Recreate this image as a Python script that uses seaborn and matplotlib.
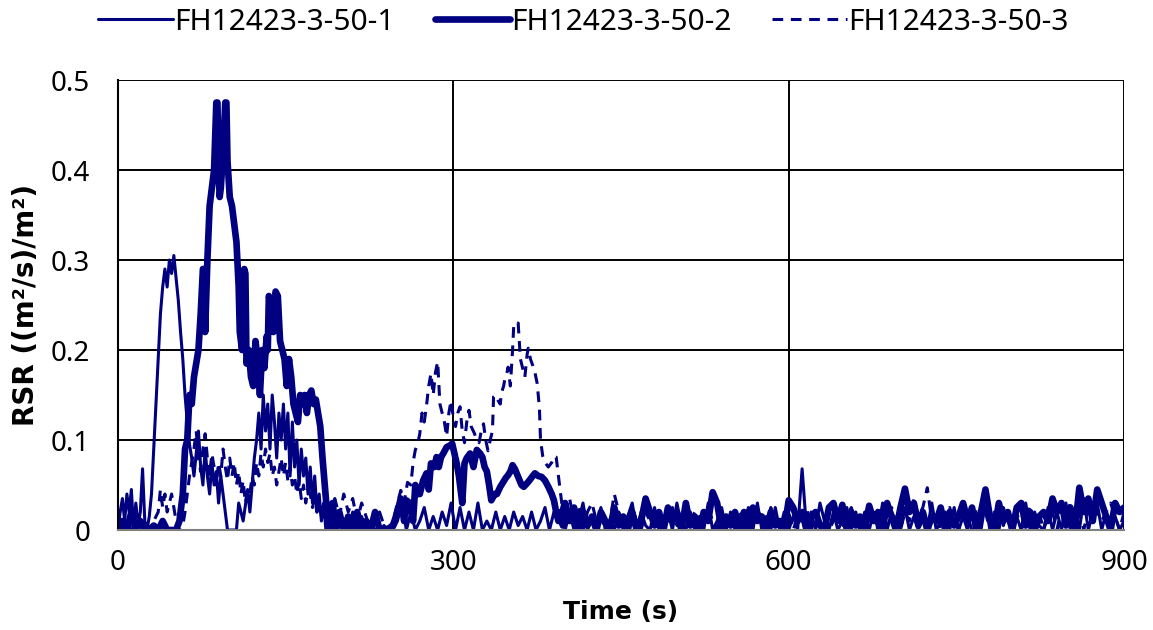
import numpy as np
import pandas as pd
import matplotlib
matplotlib.use('Agg')
import matplotlib.pyplot as plt
import seaborn as sns

sns.set_style('white')
plt.rcParams['font.family'] = ['Noto Sans', 'DejaVu Sans']
plt.rcParams['text.color'] = 'black'
plt.rcParams['axes.labelcolor'] = 'black'
plt.rcParams['xtick.color'] = 'black'
plt.rcParams['ytick.color'] = 'black'

navy = '#000080'
labels = ['FH12423-3-50-1', 'FH12423-3-50-2', 'FH12423-3-50-3']

# first 400 s read point by point, (time, RSR)
s1_main = [(0, 0.0), (2, 0.02), (4, 0.035), (6, 0.01), (8, 0.04), (10, 0.02), (12, 0.045), (14, 0.0),
           (16, 0.03), (18, 0.005), (20, 0.02), (22, 0.068), (24, 0.01), (26, 0.0), (28, 0.015), (30, 0.04),
           (32, 0.09), (34, 0.14), (36, 0.19), (38, 0.24), (40, 0.27), (42, 0.29), (44, 0.27), (46, 0.30),
           (48, 0.285), (50, 0.305), (52, 0.28), (54, 0.255), (56, 0.22), (58, 0.19), (60, 0.15), (62, 0.12),
           (64, 0.095), (66, 0.08), (68, 0.06), (70, 0.085), (72, 0.11), (74, 0.07), (76, 0.05), (78, 0.09),
           (80, 0.06), (82, 0.04), (84, 0.075), (86, 0.05), (88, 0.065), (90, 0.03), (92, 0.06), (94, 0.04),
           (96, 0.02), (98, 0.0), (102, 0.0), (106, 0.0), (108, 0.03), (112, 0.01), (116, 0.045), (118, 0.02),
           (120, 0.05), (122, 0.08), (124, 0.10), (126, 0.13), (128, 0.09), (130, 0.15), (132, 0.11), (134, 0.14),
           (136, 0.09), (138, 0.15), (140, 0.12), (142, 0.08), (144, 0.13), (146, 0.10), (148, 0.14), (150, 0.09),
           (152, 0.13), (154, 0.06), (156, 0.12), (158, 0.07), (160, 0.10), (162, 0.05), (164, 0.09), (166, 0.06),
           (168, 0.08), (170, 0.04), (172, 0.07), (174, 0.03), (176, 0.06), (178, 0.02), (180, 0.04), (182, 0.01),
           (184, 0.03), (186, 0.0), (190, 0.02), (194, 0.0), (198, 0.015), (202, 0.01), (206, 0.0), (210, 0.02),
           (214, 0.0), (218, 0.015), (222, 0.0), (226, 0.01), (230, 0.0), (234, 0.0), (238, 0.005), (242, 0.0),
           (246, 0.0), (250, 0.01), (254, 0.03), (258, 0.0), (262, 0.02), (266, 0.0), (270, 0.01), (274, 0.025),
           (278, 0.0), (282, 0.015), (286, 0.0), (290, 0.02), (294, 0.005), (298, 0.03), (302, 0.0), (306, 0.025),
           (310, 0.0), (314, 0.02), (318, 0.0), (322, 0.03), (326, 0.0), (330, 0.01), (334, 0.0), (338, 0.02),
           (342, 0.0), (346, 0.015), (350, 0.0), (354, 0.02), (358, 0.005), (362, 0.015), (366, 0.0), (370, 0.02),
           (374, 0.0), (378, 0.01), (382, 0.025), (386, 0.0), (390, 0.02), (394, 0.01), (398, 0.03)]

s2_main = [(0, 0.0), (4, 0.01), (8, 0.0), (12, 0.02), (16, 0.0), (20, 0.01), (24, 0.0), (28, 0.0),
           (32, 0.005), (36, 0.0), (40, 0.01), (44, 0.0), (48, 0.0), (52, 0.0), (55, 0.01), (58, 0.04),
           (60, 0.09), (62, 0.1), (64, 0.15), (66, 0.14), (68, 0.17), (70, 0.185), (72, 0.2), (74, 0.24),
           (76, 0.29), (77, 0.29), (78, 0.22), (80, 0.3), (82, 0.36), (84, 0.38), (86, 0.4), (88, 0.475),
           (89, 0.475), (90, 0.4), (91, 0.37), (92, 0.38), (94, 0.42), (96, 0.475), (97, 0.475), (98, 0.41),
           (100, 0.37), (102, 0.36), (104, 0.34), (106, 0.32), (108, 0.27), (109, 0.22), (111, 0.2), (113, 0.29),
           (114, 0.285), (115, 0.185), (117, 0.2), (119, 0.17), (121, 0.16), (123, 0.21), (125, 0.19), (127, 0.15),
           (129, 0.2), (131, 0.18), (133, 0.215), (134, 0.2), (135, 0.26), (137, 0.25), (139, 0.22), (141, 0.265),
           (143, 0.26), (145, 0.21), (147, 0.2), (149, 0.19), (151, 0.16), (153, 0.19), (155, 0.17), (157, 0.14),
           (159, 0.13), (161, 0.12), (163, 0.15), (165, 0.14), (167, 0.15), (169, 0.13), (171, 0.15), (173, 0.155),
           (175, 0.14), (177, 0.145), (179, 0.13), (181, 0.115), (183, 0.08), (185, 0.05), (187, 0.02), (189, 0.0),
           (192, 0.03), (195, 0.0), (198, 0.02), (202, 0.0), (206, 0.015), (210, 0.0), (214, 0.02), (218, 0.0),
           (222, 0.01), (226, 0.0), (230, 0.02), (234, 0.0), (240, 0.0), (246, 0.005), (250, 0.02), (253, 0.035),
           (256, 0.01), (258, 0.033), (261, 0.03), (264, 0.01), (266, 0.05), (268, 0.04), (270, 0.04), (273, 0.055),
           (276, 0.063), (278, 0.045), (280, 0.074), (283, 0.07), (285, 0.081), (287, 0.07), (289, 0.081), (291, 0.085),
           (294, 0.092), (297, 0.094), (299, 0.096), (301, 0.085), (303, 0.074), (305, 0.06), (307, 0.04), (308, 0.03),
           (310, 0.074), (312, 0.08), (315, 0.085), (318, 0.07), (321, 0.089), (324, 0.085), (326, 0.081), (328, 0.07),
           (330, 0.065), (332, 0.05), (334, 0.033), (337, 0.04), (339, 0.04), (342, 0.048), (344, 0.052), (347, 0.058),
           (349, 0.061), (351, 0.065), (353, 0.072), (355, 0.068), (358, 0.059), (361, 0.05), (363, 0.048), (366, 0.052),
           (368, 0.055), (371, 0.06), (373, 0.063), (376, 0.06), (379, 0.059), (382, 0.055), (385, 0.048), (388, 0.04),
           (390, 0.033), (392, 0.02), (394, 0.01), (396, 0.02), (398, 0.005)]

s3_main = [(0, 0.0), (4, 0.0), (8, 0.01), (12, 0.0), (16, 0.0), (20, 0.0), (24, 0.0), (28, 0.0),
           (32, 0.01), (36, 0.02), (38, 0.045), (40, 0.025), (42, 0.04), (44, 0.02), (46, 0.03), (48, 0.04),
           (50, 0.025), (52, 0.01), (54, 0.0), (56, 0.0), (58, 0.005), (60, 0.02), (62, 0.04), (64, 0.06),
           (66, 0.075), (68, 0.09), (70, 0.11), (72, 0.08), (74, 0.065), (76, 0.09), (78, 0.107), (80, 0.08),
           (82, 0.06), (84, 0.085), (86, 0.07), (88, 0.05), (90, 0.075), (92, 0.06), (94, 0.09), (96, 0.07),
           (98, 0.055), (100, 0.08), (102, 0.06), (104, 0.075), (106, 0.05), (108, 0.065), (110, 0.04), (112, 0.055),
           (114, 0.03), (116, 0.045), (118, 0.04), (120, 0.06), (122, 0.05), (124, 0.075), (126, 0.06), (128, 0.085),
           (130, 0.07), (132, 0.09), (134, 0.075), (136, 0.085), (138, 0.06), (140, 0.07), (142, 0.05), (144, 0.065),
           (146, 0.08), (148, 0.06), (150, 0.075), (152, 0.055), (154, 0.07), (156, 0.05), (158, 0.06), (160, 0.04),
           (162, 0.055), (164, 0.035), (166, 0.05), (168, 0.03), (170, 0.045), (172, 0.04), (174, 0.025), (176, 0.035),
           (178, 0.02), (180, 0.03), (182, 0.015), (184, 0.025), (186, 0.01), (188, 0.03), (190, 0.02), (194, 0.035),
           (198, 0.015), (202, 0.04), (206, 0.02), (210, 0.035), (214, 0.01), (218, 0.03), (222, 0.015), (226, 0.0),
           (230, 0.01), (234, 0.02), (238, 0.005), (242, 0.0), (246, 0.01), (250, 0.03), (253, 0.044), (256, 0.03),
           (259, 0.053), (262, 0.05), (264, 0.075), (266, 0.089), (268, 0.095), (270, 0.107), (272, 0.13), (274, 0.12),
           (276, 0.138), (278, 0.16), (280, 0.174), (282, 0.15), (284, 0.175), (286, 0.187), (288, 0.14), (290, 0.13),
           (292, 0.12), (294, 0.104), (296, 0.13), (298, 0.144), (300, 0.125), (302, 0.115), (304, 0.13), (306, 0.137),
           (308, 0.11), (310, 0.097), (312, 0.12), (314, 0.133), (316, 0.115), (319, 0.107), (321, 0.1), (323, 0.097),
           (325, 0.11), (327, 0.118), (329, 0.1), (331, 0.088), (333, 0.1), (335, 0.11), (336, 0.148), (338, 0.15),
           (340, 0.144), (342, 0.14), (343, 0.152), (345, 0.16), (346, 0.167), (348, 0.175), (349, 0.181), (351, 0.16),
           (353, 0.2), (354, 0.226), (356, 0.225), (358, 0.23), (360, 0.19), (362, 0.18), (364, 0.17), (366, 0.195),
           (367, 0.202), (369, 0.19), (371, 0.183), (373, 0.175), (375, 0.163), (377, 0.136), (378, 0.1), (380, 0.082),
           (382, 0.075), (385, 0.07), (388, 0.075), (390, 0.082), (392, 0.081), (394, 0.06), (395, 0.05), (397, 0.03),
           (398, 0.02)]

# 400-900 s, every 4 s
tail_t = np.arange(400, 901, 4)
s1_tail = [0.0, 0.02, 0.0, 0.01, 0.03, 0.0, 0.015, 0.0, 0.025, 0.0,
           0.01, 0.0, 0.02, 0.0, 0.015, 0.03, 0.0, 0.02, 0.005, 0.0,
           0.025, 0.0, 0.01, 0.02, 0.0, 0.03, 0.005, 0.0, 0.02, 0.0,
           0.015, 0.0, 0.03, 0.0, 0.01, 0.025, 0.0, 0.02, 0.0, 0.015,
           0.0, 0.02, 0.0, 0.03, 0.0, 0.015, 0.0, 0.025, 0.0, 0.02,
           0.0, 0.015, 0.0, 0.068, 0.0, 0.02, 0.0, 0.03, 0.01, 0.0,
           0.02, 0.0, 0.01, 0.025, 0.0, 0.02, 0.0, 0.015, 0.0, 0.02,
           0.0, 0.03, 0.0, 0.02, 0.01, 0.0, 0.025, 0.0, 0.015, 0.0,
           0.02, 0.0, 0.03, 0.0, 0.01, 0.02, 0.0, 0.025, 0.0, 0.015,
           0.0, 0.02, 0.01, 0.0, 0.03, 0.0, 0.02, 0.0, 0.025, 0.01,
           0.0, 0.015, 0.0, 0.03, 0.0, 0.02, 0.005, 0.0, 0.025, 0.0,
           0.02, 0.0, 0.03, 0.0, 0.015, 0.0, 0.035, 0.0, 0.02, 0.03,
           0.0, 0.02, 0.0, 0.015, 0.0, 0.01]
s2_tail = [0.03, 0.01, 0.025, 0.0, 0.02, 0.005, 0.015, 0.0, 0.02, 0.01,
           0.0, 0.025, 0.005, 0.015, 0.0, 0.02, 0.0, 0.01, 0.035, 0.02,
           0.005, 0.02, 0.0, 0.025, 0.01, 0.02, 0.0, 0.03, 0.005, 0.015,
           0.0, 0.02, 0.01, 0.042, 0.03, 0.0, 0.015, 0.005, 0.02, 0.0,
           0.02, 0.0, 0.025, 0.01, 0.015, 0.0, 0.02, 0.005, 0.01, 0.0,
           0.033, 0.025, 0.01, 0.02, 0.0, 0.015, 0.02, 0.005, 0.0, 0.025,
           0.03, 0.01, 0.028, 0.0, 0.02, 0.005, 0.015, 0.0, 0.027, 0.01,
           0.02, 0.0, 0.03, 0.015, 0.0, 0.025, 0.046, 0.02, 0.03, 0.005,
           0.02, 0.0, 0.015, 0.01, 0.025, 0.0, 0.02, 0.005, 0.015, 0.03,
           0.01, 0.025, 0.0, 0.02, 0.045, 0.015, 0.0, 0.03, 0.01, 0.02,
           0.0, 0.025, 0.03, 0.005, 0.02, 0.0, 0.015, 0.02, 0.01, 0.035,
           0.02, 0.03, 0.005, 0.025, 0.0, 0.047, 0.02, 0.035, 0.01, 0.045,
           0.03, 0.015, 0.0, 0.03, 0.02, 0.025]
s3_tail = [0.02, 0.035, 0.01, 0.025, 0.0, 0.02, 0.03, 0.01, 0.015, 0.0,
           0.01, 0.04, 0.02, 0.005, 0.015, 0.025, 0.01, 0.0, 0.02, 0.01,
           0.015, 0.0, 0.02, 0.01, 0.025, 0.005, 0.015, 0.0, 0.01, 0.02,
           0.0, 0.015, 0.025, 0.01, 0.0, 0.02, 0.01, 0.015, 0.0, 0.02,
           0.01, 0.025, 0.0, 0.015, 0.02, 0.005, 0.025, 0.01, 0.0, 0.015,
           0.02, 0.0, 0.015, 0.01, 0.025, 0.0, 0.02, 0.01, 0.015, 0.0,
           0.01, 0.02, 0.0, 0.015, 0.025, 0.01, 0.0, 0.02, 0.01, 0.015,
           0.0, 0.02, 0.01, 0.025, 0.015, 0.0, 0.02, 0.01, 0.035, 0.015,
           0.025, 0.047, 0.01, 0.02, 0.0, 0.015, 0.025, 0.01, 0.0, 0.02,
           0.015, 0.0, 0.025, 0.01, 0.02, 0.0, 0.015, 0.025, 0.005, 0.02,
           0.01, 0.02, 0.0, 0.015, 0.025, 0.01, 0.02, 0.0, 0.015, 0.02,
           0.0, 0.025, 0.015, 0.03, 0.01, 0.02, 0.0, 0.025, 0.015, 0.02,
           0.01, 0.02, 0.03, 0.015, 0.0, 0.02]

def build(main, tail):
    t = [p[0] for p in main] + list(tail_t)
    v = [p[1] for p in main] + list(tail)
    return pd.DataFrame({'time': t, 'rsr': v})

frames = [build(s1_main, s1_tail), build(s2_main, s2_tail), build(s3_main, s3_tail)]
widths = [2.2, 4.8, 2.2]
styles = ['-', '-', (0, (3.5, 2.5))]

fig = plt.figure(figsize=(11.53, 6.30), dpi=100)
ax = fig.add_axes([0.1023, 0.1587, 0.8726, 0.7143])

for df, lab, lw, ls in zip(frames, labels, widths, styles):
    sns.lineplot(data=df, x='time', y='rsr', ax=ax, color=navy, linewidth=lw,
                 linestyle=ls, label=lab, estimator=None, sort=False)

ax.set_xlim(0, 900)
ax.set_ylim(0, 0.5)
ax.set_xticks([0, 300, 600, 900])
ax.set_yticks([0, 0.1, 0.2, 0.3, 0.4, 0.5])
ax.set_yticklabels(['0', '0.1', '0.2', '0.3', '0.4', '0.5'])
ax.grid(True, color='black', linewidth=1.4)
ax.tick_params(axis='both', length=0, labelsize=20, labelcolor='black')
ax.tick_params(axis='y', pad=20)
ax.tick_params(axis='x', pad=14)
for s in ['top', 'right']:
    ax.spines[s].set_visible(False)
ax.spines['left'].set_color('black')
ax.spines['left'].set_linewidth(1.5)
ax.spines['bottom'].set_color('#808080')
ax.spines['bottom'].set_linewidth(1.5)

ax.set_xlabel('Time (s)', fontsize=18, fontweight='bold', family='DejaVu Sans',
              color='black', labelpad=16)
ax.set_ylabel('RSR ((m²/s)/m²)', fontsize=20, fontweight='bold', family='DejaVu Sans',
              color='black', labelpad=8)

ax.get_legend().remove()
h, l = ax.get_legend_handles_labels()
fig.legend(h, l, loc='center', bbox_to_anchor=(0.506, 0.965), ncol=3, frameon=False,
           fontsize=21.5, handlelength=2.5, handletextpad=0.05, columnspacing=1.35,
           labelcolor='black')

fig.savefig('out.png', dpi=100)
